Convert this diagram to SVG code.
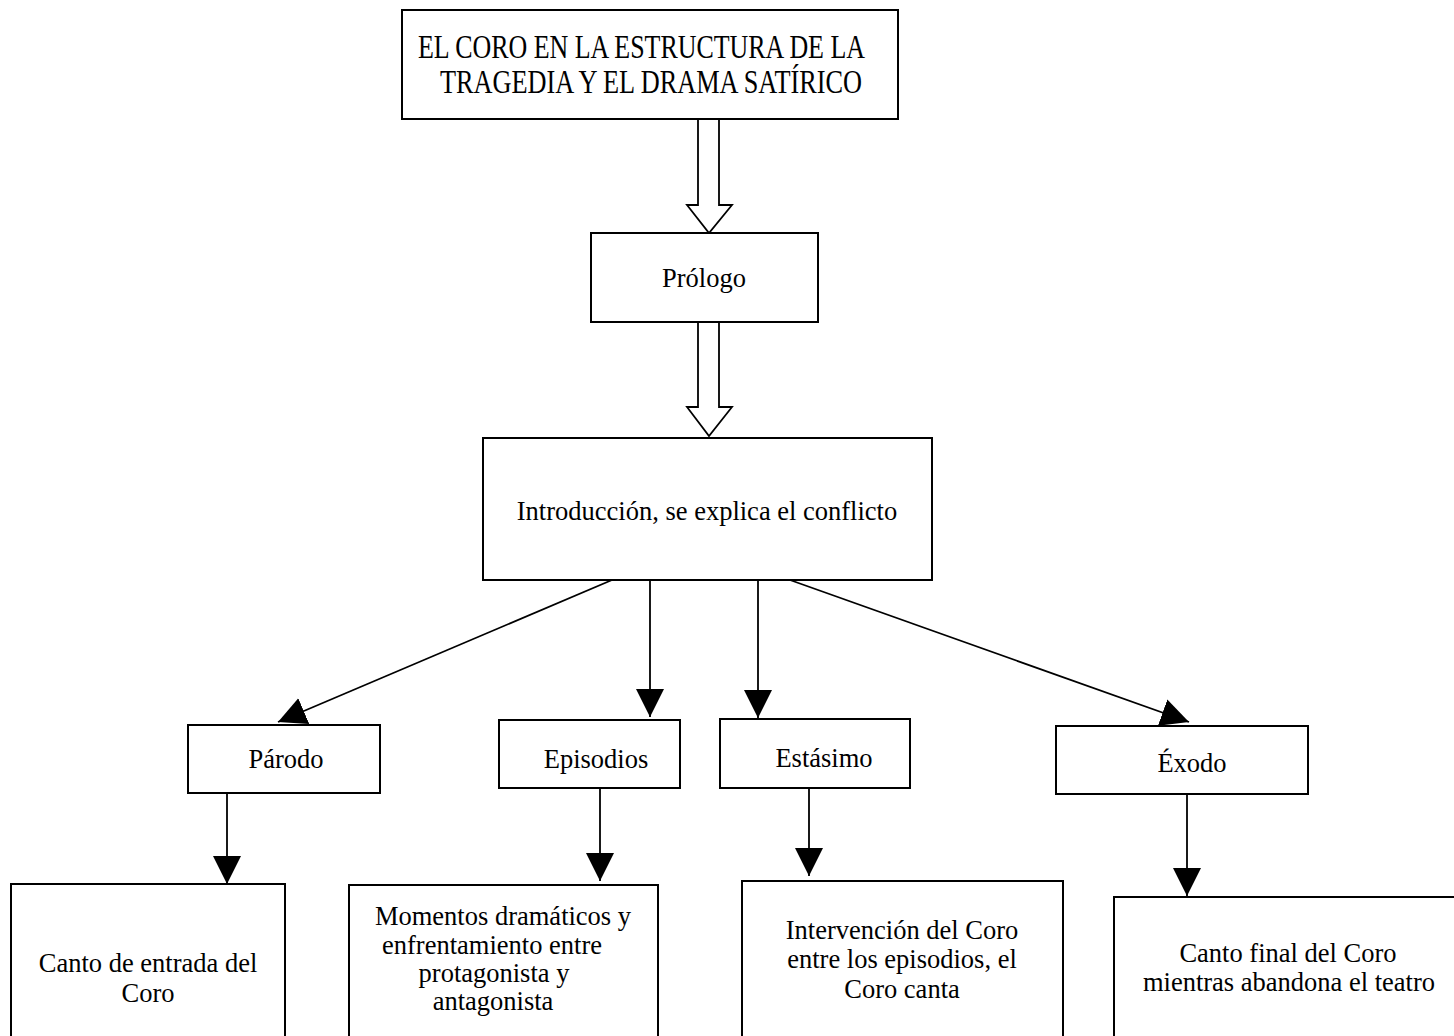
<svg xmlns="http://www.w3.org/2000/svg" width="1454" height="1036" viewBox="0 0 1454 1036">
<style>
  .box { fill: #ffffff; stroke: #000000; stroke-width: 2; }
  .t { font-family: "Liberation Serif", "Times New Roman", serif; font-size: 26.5px; fill: #000000; text-anchor: middle; }
  .title { font-family: "Liberation Serif", "Times New Roman", serif; font-size: 33px; fill: #000000; }
  .conn { fill: none; stroke: #000000; stroke-width: 1.8; }
  .hollow { fill: #ffffff; stroke: #000000; stroke-width: 1.8; stroke-linejoin: miter; }
</style>
<defs>
  <marker id="ah" markerUnits="userSpaceOnUse" markerWidth="28" markerHeight="28" viewBox="0 0 28 28" refX="28" refY="14" orient="auto">
    <path d="M0,0 L28,14 L0,28 Z" fill="#000000"/>
  </marker>
</defs>
<rect x="0" y="0" width="1454" height="1036" fill="#ffffff"/>

<g id="connectors">
  <polygon class="hollow" points="698,119 719,119 719,205 732,205 709,233 687,205 698,205"/>
  <polygon class="hollow" points="698,322 719,322 719,407 732,407 709,436 687,407 698,407"/>
  <line class="conn" x1="612" y1="580" x2="278" y2="722" marker-end="url(#ah)"/>
  <line class="conn" x1="650" y1="580" x2="650" y2="717" marker-end="url(#ah)"/>
  <line class="conn" x1="758" y1="580" x2="758" y2="718" marker-end="url(#ah)"/>
  <line class="conn" x1="790" y1="580" x2="1189" y2="722" marker-end="url(#ah)"/>
  <line class="conn" x1="227" y1="793" x2="227" y2="884" marker-end="url(#ah)"/>
  <line class="conn" x1="600" y1="788" x2="600" y2="881" marker-end="url(#ah)"/>
  <line class="conn" x1="809" y1="788" x2="809" y2="876" marker-end="url(#ah)"/>
  <line class="conn" x1="1187" y1="794" x2="1187" y2="896" marker-end="url(#ah)"/>
</g>

<g id="title">
  <rect class="box" x="402" y="10" width="496" height="109"/>
  <text class="title" x="418" y="58" textLength="447" lengthAdjust="spacingAndGlyphs">EL CORO EN LA ESTRUCTURA DE LA</text>
  <text class="title" x="440" y="93" textLength="422" lengthAdjust="spacingAndGlyphs">TRAGEDIA Y EL DRAMA SATÍRICO</text>
</g>

<g id="prologo">
  <rect class="box" x="591" y="233" width="227" height="89"/>
  <text class="t" x="704" y="287">Prólogo</text>
</g>

<g id="introduccion">
  <rect class="box" x="483" y="438" width="449" height="142"/>
  <text class="t" x="707" y="520">Introducción, se explica el conflicto</text>
</g>

<g id="parodo">
  <rect class="box" x="188" y="725" width="192" height="68"/>
  <text class="t" x="286" y="768">Párodo</text>
</g>

<g id="episodios">
  <rect class="box" x="499" y="720" width="181" height="68"/>
  <text class="t" x="596" y="768">Episodios</text>
</g>

<g id="estasimo">
  <rect class="box" x="720" y="719" width="190" height="69"/>
  <text class="t" x="824" y="767">Estásimo</text>
</g>

<g id="exodo">
  <rect class="box" x="1056" y="726" width="252" height="68"/>
  <text class="t" x="1192" y="772">Éxodo</text>
</g>

<g id="canto-entrada">
  <rect class="box" x="11" y="884" width="274" height="160"/>
  <text class="t" x="148" y="972">Canto de entrada del</text>
  <text class="t" x="148" y="1002">Coro</text>
</g>

<g id="momentos">
  <rect class="box" x="349" y="885" width="309" height="160"/>
  <text class="t" x="503" y="925">Momentos dramáticos y</text>
  <text class="t" x="492" y="954">enfrentamiento entre</text>
  <text class="t" x="494" y="982">protagonista y</text>
  <text class="t" x="493" y="1010">antagonista</text>
</g>

<g id="intervencion">
  <rect class="box" x="742" y="881" width="321" height="165"/>
  <text class="t" x="902" y="939">Intervención del Coro</text>
  <text class="t" x="902" y="968">entre los episodios, el</text>
  <text class="t" x="902" y="998">Coro canta</text>
</g>

<g id="canto-final">
  <rect class="box" x="1114" y="897" width="350" height="150"/>
  <text class="t" x="1288" y="962">Canto final del Coro</text>
  <text class="t" x="1289" y="991">mientras abandona el teatro</text>
</g>
</svg>
